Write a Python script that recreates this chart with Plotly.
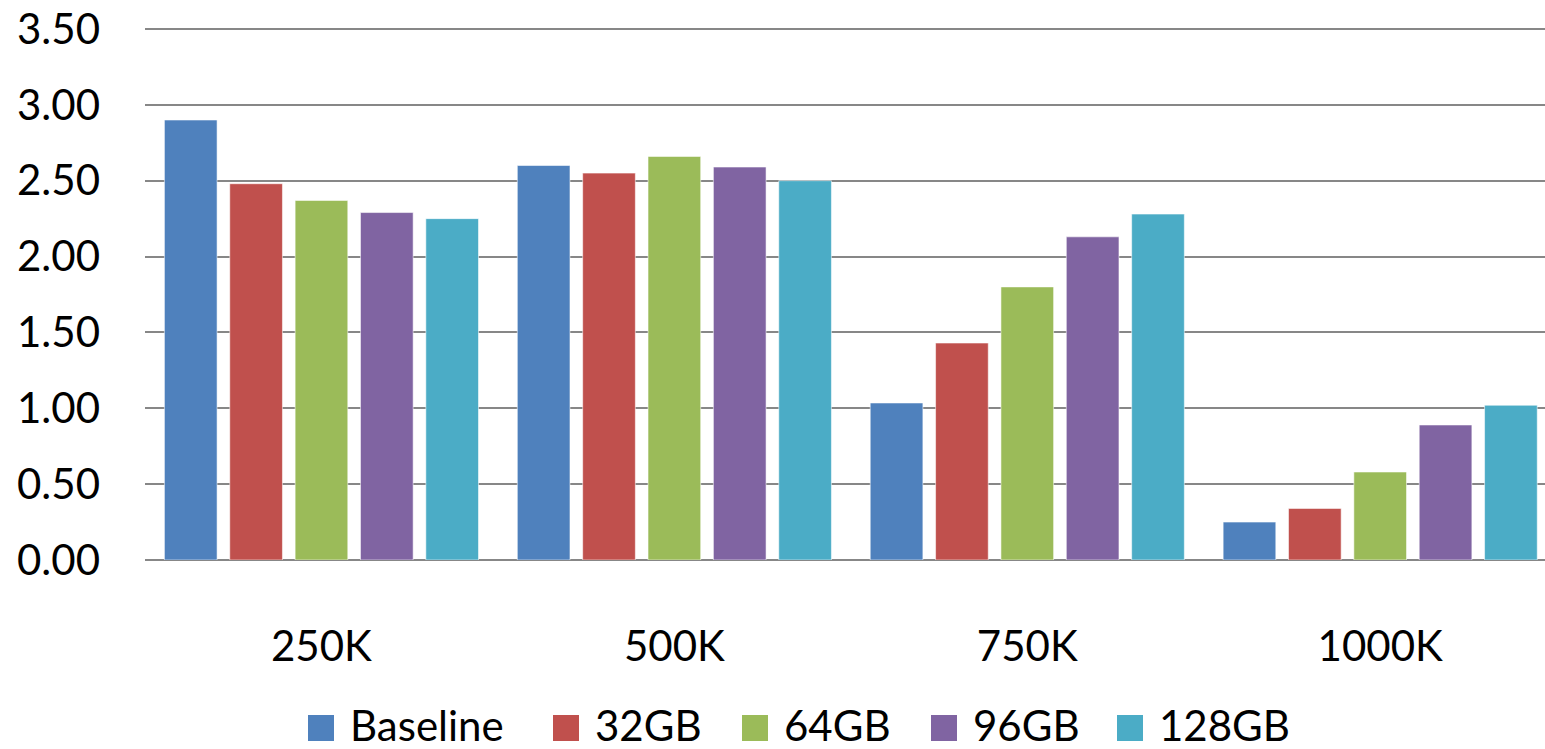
import plotly.graph_objects as go

# Data: workload sizes and the series values for each memory configuration
categories = ["250K", "500K", "750K", "1000K"]
series_names = ["Baseline", "32GB", "64GB", "96GB", "128GB"]
baseline = [2.90, 2.60, 1.035, 0.25]
gb32 = [2.48, 2.55, 1.43, 0.34]
gb64 = [2.37, 2.66, 1.80, 0.58]
gb96 = [2.29, 2.59, 2.13, 0.89]
gb128 = [2.25, 2.50, 2.28, 1.02]
y_ticks = [0.0, 0.5, 1.0, 1.5, 2.0, 2.5, 3.0, 3.5]

colors = ["#4F81BD", "#C0504D", "#9BBB59", "#8064A2", "#4BACC6"]
values = [baseline, gb32, gb64, gb96, gb128]

FONT = "Lato, Open Sans, sans-serif"
W, H = 1545, 749
M_L, M_R, M_T, M_B = 145, 0, 27, 189
Y_MAX = 3.513  # small headroom so the 3.50 gridline is drawn inside the plot

fig = go.Figure()
for name, vals, col in zip(series_names, values, colors):
    fig.add_trace(go.Bar(
        x=categories, y=vals, name=name,
        marker=dict(color=col, line=dict(color="rgba(255,255,255,0.55)", width=1)),
        showlegend=False,
    ))

# Legend drawn as colour squares with text labels below the plot
plot_w = W - M_L - M_R
plot_h = H - M_T - M_B


def px_x(px):
    return (px - M_L) / plot_w


def px_y(py):
    return (H - M_B - py) / plot_h


legend_left = [308, 553, 742, 931, 1117]
sq = 26
cy = 728
for name, col, lx in zip(series_names, colors, legend_left):
    fig.add_shape(type="rect", xref="paper", yref="paper",
                  x0=px_x(lx), x1=px_x(lx + sq),
                  y0=px_y(cy + sq / 2), y1=px_y(cy - sq / 2),
                  fillcolor=col, line=dict(width=0))
    fig.add_annotation(xref="paper", yref="paper", x=px_x(lx + sq + 14), y=px_y(cy - 3),
                       text=name, showarrow=False, xanchor="left", yanchor="middle",
                       font=dict(family=FONT, size=42, color="black"))

fig.update_layout(
    width=W, height=H,
    margin=dict(l=M_L, r=M_R, t=M_T, b=M_B, pad=0),
    paper_bgcolor="white", plot_bgcolor="white",
    barmode="group", bargap=0.074, bargroupgap=0.194,
    font=dict(family=FONT, size=42, color="black"),
)
fig.update_xaxes(
    type="category", range=[-0.5, 3.467],
    showgrid=False, showline=False, zeroline=False,
    ticks="", ticklabelstandoff=58,
    tickfont=dict(family=FONT, size=42, color="black"),
)
fig.update_yaxes(
    range=[0, Y_MAX], tickvals=y_ticks, tickformat=".2f",
    showgrid=True, gridcolor="#878787", gridwidth=2,
    zeroline=True, zerolinecolor="#878787", zerolinewidth=2,
    showline=False, ticks="", ticklabelstandoff=44,
    tickfont=dict(family=FONT, size=42, color="black"),
)

fig.write_html("out.html")
